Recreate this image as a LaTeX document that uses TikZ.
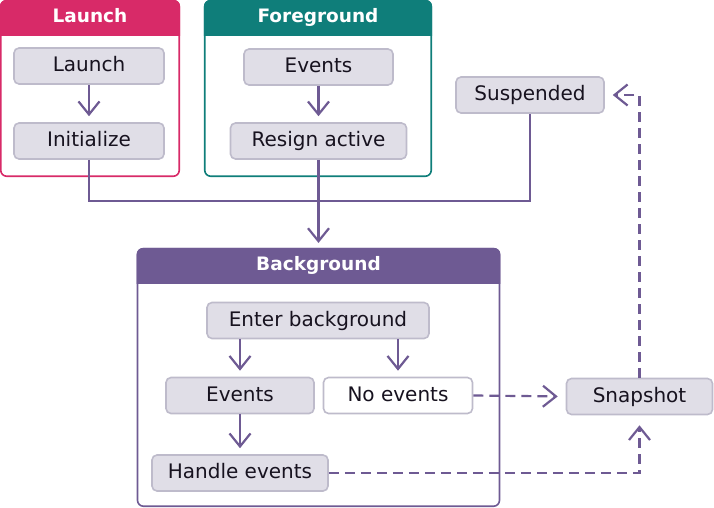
\documentclass[tikz,border=0pt]{standalone}
\usepackage{fontspec}
\setmainfont{DejaVu Sans}
\usetikzlibrary{arrows.meta}
\definecolor{launchc}{HTML}{D82A68}
\definecolor{fgc}{HTML}{0F7E7A}
\definecolor{bgc}{HTML}{6E5A93}
\definecolor{pc}{HTML}{6E5A93}
\definecolor{nodef}{HTML}{E0DEE7}
\definecolor{nodeb}{HTML}{BEBBCB}
\definecolor{txt}{HTML}{17121F}
\tikzset{
  box/.style={draw=nodeb, fill=nodef, rounded corners=5pt, line width=1.6pt,
    minimum height=36pt, inner sep=0pt, text height=14.6pt, text depth=3.2pt,
    text=txt, font=\fontsize{20}{24}\selectfont},
  whitebox/.style={box, fill=white},
  cont/.style={draw=#1, fill=white, rounded corners=6pt, line width=1.6pt, inner sep=0pt},
  hd/.style={text=white, font=\fontsize{18.5}{22}\selectfont\bfseries, inner sep=0pt,
    text height=14pt, text depth=2.4pt},
  conn/.style={draw=pc, line width=2.2pt},
  arr/.style={-{Straight Barb[length=13pt,width=21pt]}},
  dconn/.style={conn, dash pattern=on 10pt off 6pt},
}
\begin{document}
\begin{tikzpicture}[x=1pt,y=-1pt]
\useasboundingbox (0,0) rectangle (714,508);
% containers
\node[cont=launchc, minimum width=178.5pt, minimum height=175.5pt] (launchbox) at (90,88.5) {};
\node[cont=fgc, minimum width=226.5pt, minimum height=175.5pt] (fgbox) at (318,88.5) {};
\node[cont=bgc, minimum width=362pt, minimum height=257.5pt] (bgbox) at (318.5,377.5) {};
\foreach \b/\c in {launchbox/launchc, fgbox/fgc, bgbox/bgc}{
  \begin{scope}
    \clip[rounded corners=6pt] (\b.north west) rectangle (\b.south east);
    \fill[\c] ([xshift=-2pt,yshift=2pt]\b.north west) rectangle ([xshift=2pt,yshift=-36pt]\b.north east);
  \end{scope}
}
\node[hd] (launchhd) at ([yshift=-17pt]launchbox.north) {Launch};
\node[hd] (fghd) at ([yshift=-17pt]fgbox.north) {Foreground};
\node[hd] (bghd) at ([yshift=-17pt]bgbox.north) {Background};
% inner nodes
\node[box, minimum width=150pt] (launch1) at (89,66) {Launch};
\node[box, minimum width=150pt] (init) at (89,141) {Initialize};
\node[box, minimum width=149pt] (fgev) at (318.5,67) {Events};
\node[box, minimum width=176pt] (resign) at (318.5,141) {Resign active};
\node[box, minimum width=148pt] (susp) at (530,95) {Suspended};
\node[box, minimum width=222pt] (enterbg) at (318,320.5) {Enter background};
\node[box, minimum width=148pt] (bgev) at (240,395.5) {Events};
\node[whitebox, minimum width=149pt] (noev) at (398,395.5) {No events};
\node[box, minimum width=176pt] (handle) at (240,473) {Handle events};
\node[box, minimum width=146pt] (snap) at (639.5,396.5) {Snapshot};
% solid connectors
\coordinate (j) at (0,201);
\draw[conn, arr, shorten >=6pt] (launch1.south) -- (init.north);
\draw[conn, arr, shorten >=6pt] (fgev.south) -- (fgev.south |- resign.north);
\draw[conn] (init.south) |- (susp.south |- j) -- (susp.south);
\draw[conn, arr, shorten >=5pt] (resign.south) -- (resign.south |- bgbox.north);
\draw[conn, arr, shorten >=6pt] (bgev.north |- enterbg.south) -- (bgev.north);
\draw[conn, arr, shorten >=6pt] (noev.north |- enterbg.south) -- (noev.north);
\draw[conn, arr, shorten >=6pt] (bgev.south) -- (handle.north);
% dashed connectors
\draw[dconn, arr, shorten >=8pt] (noev.east) -- (snap.west);
\draw[dconn, arr, shorten >=10pt] (handle.east) -| (snap.south);
\draw[dconn, arr, shorten >=8pt] (snap.north) |- (susp.east);
\end{tikzpicture}
\end{document}
